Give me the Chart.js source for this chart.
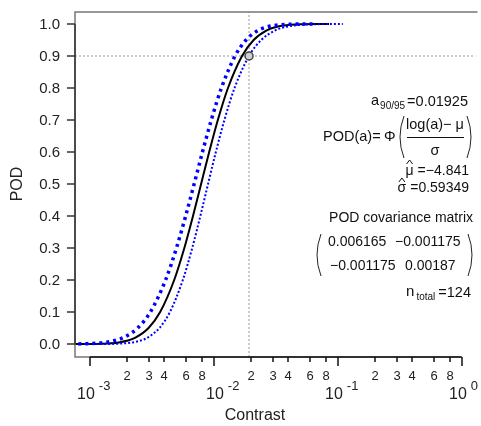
<!DOCTYPE html>
<html>
<head>
<meta charset="utf-8">
<script src="https://cdn.jsdelivr.net/npm/chart.js@4.4.0/dist/chart.umd.min.js"></script>
<style>
  html, body { margin: 0; padding: 0; background: #fff; overflow: hidden; }
  #wrap { width: 481px; height: 426px; }
</style>
</head>
<body>
<div id="wrap"><canvas id="podChart" width="481" height="426"></canvas></div>
<script>
// POD levels
const podLevels = [0, 0.0001, 0.001, 0.005, 0.01, 0.02, 0.05, 0.1, 0.2, 0.3, 0.4, 0.5,
  0.6, 0.7, 0.8, 0.9, 0.95, 0.98, 0.99, 0.995, 0.999, 0.9999, 1.0];

// contrast where each curve reaches the level above
const fitContrast = [0.00070, 0.000869, 0.001262, 0.001713, 0.001986, 0.002334, 0.002976,
  0.003692, 0.004793, 0.005787, 0.006797, 0.007899, 0.009180, 0.010783, 0.013017,
  0.016901, 0.020970, 0.026730, 0.031413, 0.036434, 0.049435, 0.07179, 0.085];
const upperContrast = [0.0005, 0.000623, 0.000943, 0.001323, 0.001558, 0.001862, 0.002431,
  0.003078, 0.004084, 0.004999, 0.005930, 0.006942, 0.008109, 0.009550, 0.011520,
  0.014844, 0.018210, 0.022822, 0.026475, 0.03031, 0.039953, 0.05585, 0.064];
const lowerContrast = [0.0009, 0.001211, 0.001688, 0.002217, 0.002531, 0.002926, 0.003643,
  0.004429, 0.005625, 0.006699, 0.007791, 0.008988, 0.010393, 0.012175, 0.014708,
  0.019243, 0.024147, 0.031306, 0.037275, 0.04380, 0.061166, 0.09228, 0.11];

// a90/95 marker
const a9095 = 0.01925;
const pod90 = 0.9;

// axes
const xMin = 0.000759, xMax = 1.293;
const yMin = -0.0406, yMax = 1.0375;
const yTicks = [0, 0.1, 0.2, 0.3, 0.4, 0.5, 0.6, 0.7, 0.8, 0.9, 1.0];
const xDecades = [0.001, 0.01, 0.1, 1];
const xDecadeExp = ['-3', '-2', '-1', '0'];
const xMinorSteps = [2, 3, 4, 6, 8];

const FONT = "'Liberation Sans', Arial, sans-serif";

function toPoints(xs, ys) {
  return xs.map((x, i) => ({ x: x, y: ys[i] }));
}

function drawParen(ctx, x, top, bottom, dir) {
  const mid = (top + bottom) / 2;
  ctx.save();
  ctx.strokeStyle = '#222';
  ctx.lineWidth = 1;
  ctx.beginPath();
  ctx.moveTo(x, top);
  ctx.quadraticCurveTo(x + dir * 8, mid, x, bottom);
  ctx.stroke();
  ctx.restore();
}

// value right-aligned at xr, hatted symbol before it
function hatLine(ctx, sym, value, xr, y, hatTop) {
  ctx.font = '14px ' + FONT;
  ctx.textAlign = 'right';
  ctx.fillText(value, xr, y);
  const wv = ctx.measureText(value).width;
  ctx.fillText(sym, xr - wv - 4, y);
  const ws = ctx.measureText(sym).width;
  const cx = xr - wv - 4 - ws / 2;
  ctx.save();
  ctx.strokeStyle = '#111';
  ctx.lineWidth = 1;
  ctx.beginPath();
  ctx.moveTo(cx - 3, hatTop + 4);
  ctx.lineTo(cx, hatTop);
  ctx.lineTo(cx + 3, hatTop + 4);
  ctx.stroke();
  ctx.restore();
}

// draws axes, ticks and the text block (R style)
const podDecor = {
  id: 'podDecor',
  afterDraw(chart) {
    const ctx = chart.ctx;
    const xs = chart.scales.x;
    const ys = chart.scales.y;
    const area = chart.chartArea;
    const x1 = xs.getPixelForValue(1);

    ctx.save();

    // box (left, top, bottom)
    ctx.strokeStyle = '#777';
    ctx.lineWidth = 1.5;
    ctx.beginPath();
    ctx.moveTo(area.right + 2, area.top);
    ctx.lineTo(area.left, area.top);
    ctx.lineTo(area.left, area.bottom);
    ctx.lineTo(x1, area.bottom);
    ctx.stroke();

    // y axis
    ctx.strokeStyle = '#333';
    ctx.beginPath();
    ctx.moveTo(area.left, ys.getPixelForValue(0));
    ctx.lineTo(area.left, ys.getPixelForValue(1));
    ctx.stroke();
    ctx.fillStyle = '#222';
    ctx.font = '15px ' + FONT;
    ctx.textAlign = 'right';
    ctx.textBaseline = 'middle';
    yTicks.forEach(v => {
      const py = Math.round(ys.getPixelForValue(v));
      ctx.beginPath();
      ctx.moveTo(area.left - 8, py);
      ctx.lineTo(area.left, py);
      ctx.stroke();
      ctx.fillText(v.toFixed(1), area.left - 15, py + 1);
    });

    // x axis
    ctx.strokeStyle = '#111';
    ctx.beginPath();
    ctx.moveTo(xs.getPixelForValue(0.001), area.bottom);
    ctx.lineTo(x1, area.bottom);
    ctx.stroke();
    xDecades.forEach((d, i) => {
      const px = Math.round(xs.getPixelForValue(d));
      ctx.beginPath();
      ctx.moveTo(px, area.bottom);
      ctx.lineTo(px, area.bottom + 9);
      ctx.stroke();
      // 10^n label
      ctx.textAlign = 'left';
      ctx.font = '16px ' + FONT;
      const start = px - (d === 0.01 ? 8 : 13);
      const w10 = ctx.measureText('10').width;
      ctx.fillText('10', start, 395);
      ctx.font = '13px ' + FONT;
      ctx.fillText(xDecadeExp[i], start + w10 + 4, 386);
      if (i < xDecades.length - 1) {
        xMinorSteps.forEach(m => {
          const pm = Math.round(xs.getPixelForValue(d * m));
          ctx.beginPath();
          ctx.moveTo(pm, area.bottom);
          ctx.lineTo(pm, area.bottom + 5);
          ctx.stroke();
          ctx.font = '13px ' + FONT;
          ctx.textAlign = 'center';
          ctx.fillText(String(m), pm, 376);
        });
      }
    });

    // axis titles
    ctx.font = '16px ' + FONT;
    ctx.textAlign = 'center';
    ctx.fillText('Contrast', 255, 416);
    ctx.save();
    ctx.translate(18, 184);
    ctx.rotate(-Math.PI / 2);
    ctx.fillText('POD', 0, 0);
    ctx.restore();

    // text block
    ctx.fillStyle = '#111';
    ctx.textBaseline = 'middle';
    ctx.textAlign = 'right';
    ctx.font = '14.5px ' + FONT;
    ctx.fillText('=0.01925', 468, 102);
    let w = ctx.measureText('=0.01925').width;
    ctx.font = '10px ' + FONT;
    ctx.fillText('90/95', 468 - w - 2, 106);
    const ws = ctx.measureText('90/95').width;
    ctx.font = '14.5px ' + FONT;
    ctx.fillText('a', 468 - w - ws - 3, 101);

    ctx.textAlign = 'left';
    ctx.fillText('POD(a)=', 323, 137);
    ctx.fillText('\u03A6', 384, 137);
    ctx.textAlign = 'center';
    ctx.fillText('log(a)\u2212 \u03BC', 435, 125);
    ctx.fillText('\u03C3', 435, 151);
    ctx.strokeStyle = '#111';
    ctx.lineWidth = 1;
    ctx.beginPath();
    ctx.moveTo(407, 137.5);
    ctx.lineTo(464, 137.5);
    ctx.stroke();
    drawParen(ctx, 404, 116, 158, -1);
    drawParen(ctx, 467, 116, 158, 1);

    hatLine(ctx, '\u03BC', '=\u22124.841', 469, 171, 160);
    hatLine(ctx, '\u03C3', '=0.59349', 469, 188, 178);

    ctx.font = '14px ' + FONT;
    ctx.textAlign = 'right';
    ctx.fillText('POD covariance matrix', 473, 218);
    ctx.textAlign = 'left';
    ctx.fillText('0.006165', 328, 242);
    ctx.fillText('\u22120.001175', 395, 242);
    ctx.fillText('\u22120.001175', 330, 266);
    ctx.fillText('0.00187', 405, 266);
    drawParen(ctx, 321, 234, 276, -1);
    drawParen(ctx, 468, 234, 276, 1);

    ctx.textAlign = 'right';
    ctx.font = '14.5px ' + FONT;
    ctx.fillText('=124', 471, 293);
    w = ctx.measureText('=124').width;
    ctx.font = '10px ' + FONT;
    ctx.fillText('total', 471 - w - 3, 297);
    const wt = ctx.measureText('total').width;
    ctx.font = '15px ' + FONT;
    ctx.fillText('n', 471 - w - wt - 5, 292);

    ctx.restore();
  }
};

const ctx = document.getElementById('podChart');

new Chart(ctx, {
  type: 'scatter',
  data: {
    datasets: [
      {
        label: 'a90/95',
        data: [{ x: a9095, y: pod90 }],
        pointRadius: 4,
        pointBackgroundColor: '#d0d0d0',
        pointBorderColor: '#444',
        pointBorderWidth: 1.5,
        showLine: false,
        order: 0
      },
      {
        label: 'upper bound',
        data: toPoints(upperContrast, podLevels),
        showLine: true,
        borderColor: '#0000ff',
        borderWidth: 3.5,
        borderDash: [3, 4],
        pointRadius: 0,
        cubicInterpolationMode: 'monotone',
        order: 1
      },
      {
        label: 'lower bound',
        data: toPoints(lowerContrast, podLevels),
        showLine: true,
        borderColor: '#0000ff',
        borderWidth: 2,
        borderDash: [2, 2],
        pointRadius: 0,
        cubicInterpolationMode: 'monotone',
        order: 2
      },
      {
        label: 'POD',
        data: toPoints(fitContrast, podLevels),
        showLine: true,
        borderColor: '#000',
        borderWidth: 2,
        pointRadius: 0,
        cubicInterpolationMode: 'monotone',
        order: 3
      },
      {
        label: 'v line',
        data: [{ x: a9095, y: yMin }, { x: a9095, y: yMax }],
        showLine: true,
        borderColor: '#bbbbbb',
        borderWidth: 1.5,
        borderDash: [2, 2],
        pointRadius: 0,
        order: 4
      },
      {
        label: 'h line',
        data: [{ x: xMin, y: pod90 }, { x: xMax, y: pod90 }],
        showLine: true,
        borderColor: '#bbbbbb',
        borderWidth: 1.5,
        borderDash: [2, 2],
        pointRadius: 0,
        order: 5
      }
    ]
  },
  options: {
    responsive: false,
    animation: false,
    devicePixelRatio: 1,
    layout: { padding: { left: 75, top: 12, right: 0, bottom: 69 } },
    plugins: { legend: { display: false }, tooltip: { enabled: false } },
    scales: {
      x: { type: 'logarithmic', min: xMin, max: xMax, display: false },
      y: { type: 'linear', min: yMin, max: yMax, display: false }
    }
  },
  plugins: [podDecor]
});
</script>
</body>
</html>
